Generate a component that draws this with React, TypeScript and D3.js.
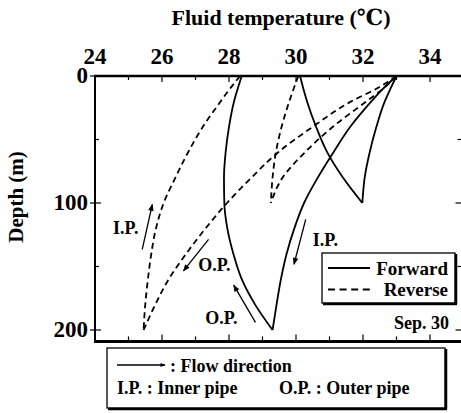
import React from "react";
import * as d3 from "d3";

// ---- data (temperature in °C at depth in m) ----
const depth200 = [0, 10, 20, 40, 60, 80, 100, 120, 140, 160, 180, 200];
const depth100 = [0, 10, 20, 40, 60, 80, 100];

const fwdInner200 = [33.0, 32.6, 32.25, 31.62, 31.12, 30.65, 30.24, 29.95, 29.72, 29.55, 29.42, 29.3];
const fwdOuter200 = [28.38, 28.26, 28.15, 28.0, 27.9, 27.85, 27.86, 27.95, 28.13, 28.38, 28.78, 29.3];
const fwdInner100 = [33.0, 32.82, 32.65, 32.4, 32.2, 32.05, 31.98];
const fwdOuter100 = [30.12, 30.22, 30.33, 30.6, 30.93, 31.4, 31.98];

const revOuter200 = [33.0, 32.4, 31.65, 30.5, 29.47, 28.67, 27.94, 27.3, 26.72, 26.2, 25.8, 25.45];
const revInner200 = [28.33, 28.03, 27.75, 27.22, 26.78, 26.4, 26.05, 25.82, 25.68, 25.58, 25.5, 25.45];
const revOuter100 = [33.0, 32.6, 32.1, 31.1, 30.27, 29.6, 29.25];
const revInner100 = [30.07, 29.93, 29.8, 29.57, 29.4, 29.3, 29.25];

const xTickValues = [24, 25, 26, 27, 28, 29, 30, 31, 32, 33, 34, 35];
const xTickLabels = ["24", "26", "28", "30", "32", "34"];
const yTickValues = [0, 50, 100, 150, 200];
const yTickLabels = ["0", "100", "200"];

// annotation arrows: [tailT, tailD, headT, headD]
const flowArrows = [
  [25.41, 136.5, 25.71, 101.2],
  [27.39, 128.6, 26.64, 153.5],
  [30.29, 112.9, 29.94, 148.2],
  [28.79, 194.0, 28.14, 164.7],
];
// annotation labels: [text, T, D]
const flowLabels: [string, number, number][] = [
  ["I.P.", 24.54, 124.7],
  ["O.P.", 27.08, 153.5],
  ["I.P.", 30.5, 134.0],
  ["O.P.", 27.29, 195.3],
];

const FONT = "'Liberation Serif', 'DejaVu Serif', 'Times New Roman', serif";

export default function App() {
  const x = d3.scaleLinear().domain([24, 35]).range([95, 463.5]);
  const y = d3.scaleLinear().domain([0, 200]).range([76, 330]);
  const yBottom = y(209);
  const xLeft = x(24);
  const xRight = x(35);

  const line = (temps: number[], depths: number[]) =>
    d3
      .line<number>()
      .x((t) => x(t))
      .y((_, i) => y(depths[i]))
      .curve(d3.curveMonotoneY)(temps) || "";

  const solid = [
    line(fwdInner200, depth200),
    line(fwdOuter200, depth200),
    line(fwdInner100, depth100),
    line(fwdOuter100, depth100),
  ];
  const dashed = [
    line(revOuter200, depth200),
    line(revInner200, depth200),
    line(revOuter100, depth100),
    line(revInner100, depth100),
  ];

  const textStyle: React.CSSProperties = { fontFamily: FONT, fontWeight: "bold" };

  return (
    <svg width={461} height={413} style={{ position: "absolute", left: 0, top: 0 }}>
      <defs>
        <marker id="ah" viewBox="0 0 10 10" refX="9" refY="5" markerWidth="9" markerHeight="7" markerUnits="userSpaceOnUse" orient="auto">
          <path d="M0,1 L10,5 L0,9 Z" fill="#000" />
        </marker>
        <marker id="ah2" viewBox="0 0 10 10" refX="9" refY="5" markerWidth="10" markerHeight="5" markerUnits="userSpaceOnUse" orient="auto">
          <path d="M0,1 L10,5 L0,9 Z" fill="#000" />
        </marker>
      </defs>
      <rect width={461} height={413} fill="#fff" />

      {/* title */}
      <text x={281} y={25} textAnchor="middle" fontSize={22} style={textStyle}>
        Fluid temperature (℃)
      </text>
      <text transform={`translate(23,197) rotate(-90)`} textAnchor="middle" fontSize={21} style={textStyle}>
        Depth (m)
      </text>

      {/* frame */}
      <g stroke="#000" fill="none">
        <line x1={xLeft - 1} x2={xRight} y1={y(0)} y2={y(0)} strokeWidth={2.5} />
        <line x1={xLeft - 1} x2={xRight} y1={yBottom} y2={yBottom} strokeWidth={3} />
        <line x1={xLeft} x2={xLeft} y1={y(0)} y2={yBottom} strokeWidth={2} />
        <line x1={xRight} x2={xRight} y1={y(0)} y2={yBottom} strokeWidth={2} />
        {xTickValues.map((t) => {
          const major = t % 2 === 0;
          const len = major ? 6 : 4;
          return (
            <g key={t}>
              <line x1={x(t)} x2={x(t)} y1={y(0)} y2={y(0) + len} strokeWidth={1.2} />
              <line x1={x(t)} x2={x(t)} y1={yBottom} y2={yBottom - len - 1} strokeWidth={1.2} />
            </g>
          );
        })}
        {yTickValues.map((d) => {
          const major = d % 100 === 0;
          const len = major ? 6 : 4;
          return (
            <g key={d}>
              <line x1={xLeft - (major ? 5 : 0)} x2={xLeft + len} y1={y(d)} y2={y(d)} strokeWidth={1.2} />
              <line x1={xRight} x2={xRight - len - 2} y1={y(d)} y2={y(d)} strokeWidth={1.2} />
            </g>
          );
        })}
      </g>

      {/* tick labels */}
      {xTickLabels.map((s) => (
        <text key={s} x={x(+s)} y={64} textAnchor="middle" fontSize={23} style={textStyle}>
          {s}
        </text>
      ))}
      {yTickLabels.map((s) => (
        <text key={s} x={88} y={y(+s) + 7} textAnchor="end" fontSize={23} style={textStyle}>
          {s}
        </text>
      ))}

      {/* curves */}
      <g fill="none" stroke="#000" strokeWidth={1.8}>
        {solid.map((d, i) => (
          <path key={"s" + i} d={d} />
        ))}
        {dashed.map((d, i) => (
          <path key={"d" + i} d={d} strokeDasharray="6,4" />
        ))}
      </g>

      {/* flow arrows */}
      <g stroke="#000" strokeWidth={1.3}>
        {flowArrows.map((a, i) => (
          <line key={i} x1={x(a[0])} y1={y(a[1])} x2={x(a[2])} y2={y(a[3])} markerEnd="url(#ah)" />
        ))}
      </g>
      {flowLabels.map(([s, t, d], i) => (
        <text key={i} x={x(t)} y={y(d)} fontSize={18} style={textStyle}>
          {s}
        </text>
      ))}

      <text x={449} y={329} textAnchor="end" fontSize={18} style={textStyle}>
        Sep. 30
      </text>

      {/* legend */}
      <g>
        <rect x={322} y={253} width={133} height={50} fill="#fff" stroke="#000" strokeWidth={1.3} />
        <line x1={456} x2={456} y1={254} y2={304} stroke="#000" strokeWidth={2.5} />
        <line x1={323} x2={457} y1={304} y2={304} stroke="#000" strokeWidth={2.5} />
        <line x1={328} x2={370} y1={268} y2={268} stroke="#000" strokeWidth={1.8} />
        <line x1={328} x2={370} y1={289.5} y2={289.5} stroke="#000" strokeWidth={1.8} strokeDasharray="7,4.6" />
        <text x={448} y={275} textAnchor="end" fontSize={19} style={textStyle}>
          Forward
        </text>
        <text x={448} y={296} textAnchor="end" fontSize={19} style={textStyle}>
          Reverse
        </text>
      </g>

      {/* bottom note box */}
      <g>
        <rect x={107} y={348} width={338} height={60} fill="#fff" stroke="#000" strokeWidth={1.3} />
        <line x1={446} x2={446} y1={349} y2={409} stroke="#000" strokeWidth={2.5} />
        <line x1={108} x2={447} y1={409} y2={409} stroke="#000" strokeWidth={2.5} />
        <line x1={117} x2={165} y1={365} y2={365} stroke="#000" strokeWidth={1.3} markerEnd="url(#ah2)" />
        <text x={170} y={372} fontSize={18} style={textStyle}>
          : Flow direction
        </text>
        <text x={117} y={394} fontSize={18} style={textStyle}>
          I.P. : Inner pipe
        </text>
        <text x={279} y={394} fontSize={18} style={textStyle}>
          O.P. : Outer pipe
        </text>
      </g>
    </svg>
  );
}
